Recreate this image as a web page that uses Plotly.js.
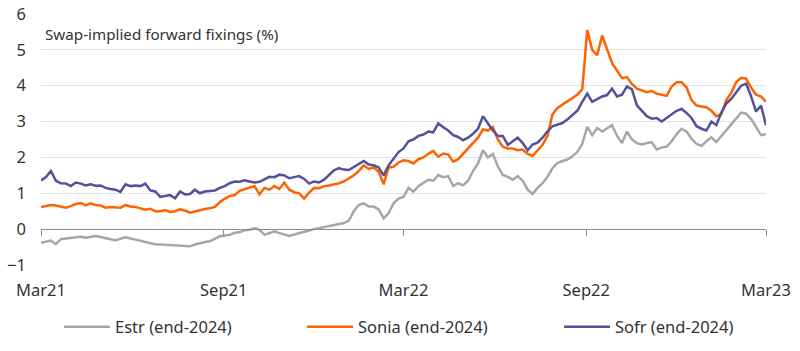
<!DOCTYPE html>
<html>
<head>
<meta charset="utf-8">
<script src="https://cdn.plot.ly/plotly-3.0.1.min.js"></script>
<style>html,body{margin:0;padding:0;background:#fff;}#chart{width:800px;height:351px;}</style>
</head>
<body>
<div id="chart"></div>
<script>
const dates = [
"2021-03-01","2021-03-06","2021-03-11","2021-03-16","2021-03-21","2021-03-26","2021-03-31","2021-04-05","2021-04-10","2021-04-15",
"2021-04-20","2021-04-25","2021-04-30","2021-05-05","2021-05-10","2021-05-15","2021-05-20","2021-05-25","2021-05-30","2021-06-04",
"2021-06-09","2021-06-14","2021-06-19","2021-06-24","2021-06-29","2021-07-04","2021-07-09","2021-07-14","2021-07-19","2021-07-24",
"2021-07-29","2021-08-03","2021-08-08","2021-08-13","2021-08-18","2021-08-23","2021-08-28","2021-09-02","2021-09-07","2021-09-12",
"2021-09-17","2021-09-22","2021-09-27","2021-10-02","2021-10-07","2021-10-12","2021-10-17","2021-10-22","2021-10-27","2021-11-01",
"2021-11-06","2021-11-11","2021-11-16","2021-11-21","2021-11-26","2021-12-01","2021-12-06","2021-12-11","2021-12-16","2021-12-21",
"2021-12-26","2021-12-31","2022-01-05","2022-01-10","2022-01-15","2022-01-20","2022-01-25","2022-01-30","2022-02-04","2022-02-09",
"2022-02-14","2022-02-19","2022-02-24","2022-03-01","2022-03-06","2022-03-11","2022-03-16","2022-03-21","2022-03-26","2022-03-31",
"2022-04-05","2022-04-10","2022-04-15","2022-04-20","2022-04-25","2022-04-30","2022-05-05","2022-05-10","2022-05-15","2022-05-20",
"2022-05-25","2022-05-30","2022-06-04","2022-06-09","2022-06-14","2022-06-19","2022-06-24","2022-06-29","2022-07-04","2022-07-09",
"2022-07-14","2022-07-19","2022-07-24","2022-07-29","2022-08-03","2022-08-08","2022-08-13","2022-08-18","2022-08-23","2022-08-28",
"2022-09-02","2022-09-07","2022-09-12","2022-09-17","2022-09-22","2022-09-27","2022-10-02","2022-10-07","2022-10-12","2022-10-17",
"2022-10-22","2022-10-27","2022-11-01","2022-11-06","2022-11-11","2022-11-16","2022-11-21","2022-11-26","2022-12-01","2022-12-06",
"2022-12-11","2022-12-16","2022-12-21","2022-12-26","2022-12-31","2023-01-05","2023-01-10","2023-01-15","2023-01-20","2023-01-25",
"2023-01-30","2023-02-04","2023-02-09","2023-02-14","2023-02-19","2023-02-24","2023-03-01"
];

const estr = [
-0.38,-0.35,-0.32,-0.42,-0.28,-0.26,-0.25,-0.23,-0.21,-0.24,
-0.22,-0.19,-0.22,-0.26,-0.28,-0.31,-0.27,-0.23,-0.26,-0.28,
-0.32,-0.36,-0.40,-0.42,-0.43,-0.44,-0.45,-0.44,-0.47,-0.46,
-0.48,-0.43,-0.39,-0.36,-0.34,-0.27,-0.20,-0.18,-0.16,-0.10,
-0.09,-0.03,-0.02,0.03,-0.02,-0.16,-0.10,-0.06,-0.11,-0.16,
-0.19,-0.15,-0.12,-0.08,-0.04,0.00,0.03,0.06,0.09,0.12,
0.15,0.17,0.24,0.50,0.68,0.72,0.63,0.63,0.55,0.30,
0.45,0.72,0.85,0.90,1.15,1.05,1.20,1.28,1.38,1.35,
1.51,1.45,1.48,1.20,1.28,1.22,1.35,1.62,1.83,2.20,
2.00,2.10,1.75,1.51,1.46,1.38,1.48,1.35,1.10,0.98,
1.15,1.28,1.46,1.70,1.84,1.90,1.94,2.03,2.15,2.38,
2.85,2.62,2.82,2.72,2.80,2.90,2.60,2.40,2.72,2.50,
2.40,2.36,2.40,2.42,2.22,2.28,2.30,2.45,2.65,2.80,
2.72,2.52,2.38,2.32,2.45,2.56,2.43,2.60,2.75,2.93,
3.10,3.25,3.22,3.07,2.85,2.62,2.65
];

const sonia = [
0.62,0.64,0.67,0.66,0.62,0.60,0.64,0.70,0.73,0.66,
0.72,0.67,0.66,0.60,0.62,0.60,0.60,0.67,0.63,0.62,
0.59,0.54,0.57,0.50,0.50,0.53,0.48,0.50,0.55,0.52,
0.46,0.50,0.54,0.56,0.58,0.62,0.75,0.85,0.92,0.95,
1.07,1.12,1.16,1.20,0.97,1.15,1.10,1.20,1.12,1.30,
1.10,1.03,1.00,0.85,1.02,1.15,1.14,1.20,1.22,1.24,
1.28,1.33,1.42,1.50,1.62,1.78,1.68,1.72,1.60,1.25,
1.72,1.74,1.86,1.92,1.90,1.83,1.95,2.00,2.10,2.18,
2.02,2.11,2.08,1.88,1.95,2.10,2.25,2.40,2.55,2.78,
2.75,2.85,2.50,2.30,2.25,2.25,2.20,2.22,2.10,2.04,
2.20,2.35,2.60,3.20,3.38,3.47,3.56,3.66,3.75,3.90,
5.55,5.00,4.85,5.40,5.00,4.63,4.42,4.21,4.24,4.05,
3.92,3.88,3.82,3.85,3.78,3.75,3.72,3.98,4.10,4.10,
3.95,3.60,3.45,3.42,3.40,3.30,3.15,3.20,3.60,3.80,
4.10,4.22,4.20,3.95,3.75,3.70,3.55
];

const sofr = [
1.36,1.45,1.62,1.35,1.28,1.27,1.20,1.30,1.27,1.22,
1.25,1.21,1.22,1.15,1.12,1.10,1.04,1.25,1.20,1.22,
1.20,1.27,1.08,1.05,0.90,0.92,0.95,0.86,1.05,0.97,
0.98,1.10,1.00,1.05,1.06,1.08,1.15,1.20,1.28,1.33,
1.32,1.36,1.33,1.30,1.32,1.40,1.46,1.45,1.52,1.50,
1.42,1.45,1.48,1.40,1.27,1.33,1.30,1.38,1.52,1.64,
1.70,1.66,1.65,1.73,1.82,1.90,1.80,1.78,1.72,1.50,
1.78,1.98,2.15,2.25,2.45,2.50,2.60,2.64,2.72,2.70,
2.95,2.84,2.75,2.62,2.57,2.48,2.55,2.66,2.80,3.15,
2.95,2.75,2.60,2.60,2.35,2.45,2.55,2.40,2.20,2.36,
2.41,2.55,2.73,2.87,2.92,2.96,3.06,3.17,3.30,3.55,
3.78,3.55,3.62,3.70,3.74,3.92,3.70,3.75,3.98,3.90,
3.45,3.30,3.15,3.08,3.10,3.00,3.10,3.20,3.30,3.35,
3.24,3.10,2.87,2.80,2.75,3.00,2.90,3.25,3.50,3.63,
3.80,4.00,4.06,3.70,3.28,3.45,2.90
];

const seriesNames = ["Estr (end-2024)", "Sonia (end-2024)", "Sofr (end-2024)"];
const seriesColors = ["#a6a6a6", "#ff6200", "#525199"];
const tickDates = ["2021-03-01","2021-09-01","2022-03-01","2022-09-01","2023-03-01"];
const tickLabels = ["Mar21","Sep21","Mar22","Sep22","Mar23"];
const chartTitle = "Swap-implied forward fixings (%)";

const seriesValues = [estr, sonia, sofr];
const legendIds = ["legend", "legend2", "legend3"];
const legendX = [59 / 800, 302 / 800, 559 / 800];

const traces = seriesValues.map((vals, i) => ({
  x: dates, y: vals, type: "scatter", mode: "lines",
  name: seriesNames[i],
  legend: legendIds[i],
  line: {color: seriesColors[i], width: 2.5},
  hoverinfo: "skip"
}));

const xRange = ["2021-03-01", "2023-03-01"];
const textColor = "#333333";
const fam = "Noto Sans, sans-serif";

function legendCfg(x) {
  return {
    orientation: "h", xref: "container", yref: "container",
    x: x, xanchor: "left", y: 24 / 351, yanchor: "middle",
    itemwidth: 46,
    font: {family: fam, size: 16.5, color: textColor},
    bgcolor: "rgba(0,0,0,0)"
  };
}

const layout = {
  width: 800, height: 351,
  margin: {l: 41, r: 34, t: 14, b: 86, autoexpand: false},
  paper_bgcolor: "#ffffff", plot_bgcolor: "#ffffff",
  font: {family: fam, size: 14, color: textColor},
  showlegend: true,
  legend: legendCfg(legendX[0]),
  legend2: legendCfg(legendX[1]),
  legend3: legendCfg(legendX[2]),
  xaxis: {
    type: "date", range: xRange,
    tickvals: tickDates, ticktext: tickLabels,
    showgrid: false, zeroline: false, showline: false,
    ticks: "", ticklabelstandoff: 13,
    tickfont: {family: fam, size: 16.5, color: textColor}
  },
  xaxis2: {
    type: "date", range: xRange, overlaying: "x", matches: "x",
    anchor: "free", position: 1/7, side: "bottom",
    tickvals: tickDates, showticklabels: false,
    showgrid: false, zeroline: false,
    showline: true, linecolor: "#8c8c8c", linewidth: 1,
    ticks: "outside", ticklen: 6, tickcolor: "#8c8c8c", tickwidth: 1
  },
  yaxis: {
    range: [-1, 6], dtick: 1, tick0: 0,
    showgrid: true, gridcolor: "#e3e3e3", gridwidth: 1,
    zeroline: false, showline: false, ticks: "",
    ticklabelstandoff: 14,
    tickfont: {family: fam, size: 16.5, color: textColor}
  },
  annotations: [{
    text: chartTitle, xref: "paper", yref: "paper",
    x: 0.003, y: 0.922, xanchor: "left", yanchor: "middle",
    showarrow: false, font: {family: fam, size: 15.2, color: textColor}
  }]
};

traces.push({x: [], y: [], xaxis: "x2", yaxis: "y", type: "scatter", mode: "lines", showlegend: false, hoverinfo: "skip"});

Plotly.newPlot("chart", traces, layout, {displayModeBar: false, staticPlot: true});
</script>
</body>
</html>
